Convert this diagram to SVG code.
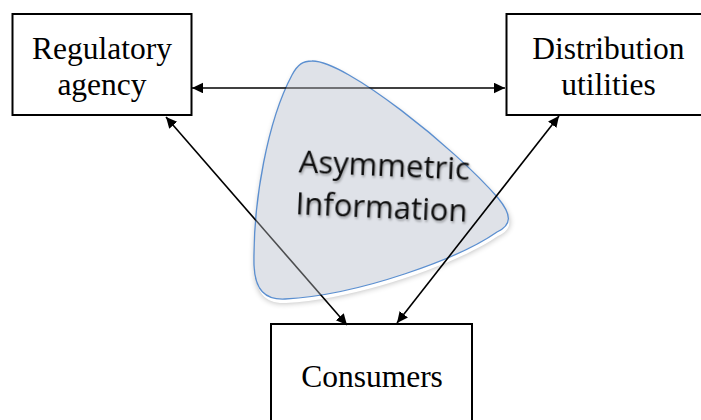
<svg xmlns="http://www.w3.org/2000/svg" width="701" height="420" viewBox="0 0 701 420">
<style>
.box{fill:#ffffff;stroke:#000000;stroke-width:2}
.lbl{font-family:"Liberation Serif","Times New Roman",serif;font-size:31.5px;fill:#000000;text-anchor:middle}
.conn{stroke:#000000;stroke-width:1.6;fill:none}
.blob{fill:#dfe2e8;stroke:#5b8fd0;stroke-width:1.3}
.info{font-family:"Open Sans","Liberation Sans",sans-serif;font-size:31px;fill:#111111;text-anchor:middle}
</style>
<defs>
<path id="blobPath" d="M312,61 C345,60 455,148 498,198 C512,215 512,225 497,232 C460,258 360,295 285,299 C265,300 255,290 254,265 C253,200 268,120 292,75 C298,64 303,61 312,61 Z"/>
<marker id="arr" markerUnits="userSpaceOnUse" markerWidth="12" markerHeight="11" refX="11" refY="5.25" orient="auto-start-reverse">
<path d="M0,0 L11,5.25 L0,10.5 Z" fill="#000000"/>
</marker>
<filter id="blur" x="-20%" y="-20%" width="140%" height="140%">
<feGaussianBlur stdDeviation="3"/>
</filter>
<filter id="tshadow" x="-10%" y="-30%" width="120%" height="160%">
<feDropShadow dx="1" dy="2" stdDeviation="1.3" flood-color="#000000" flood-opacity="0.3"/>
</filter>
<mask id="outside" maskUnits="userSpaceOnUse" x="0" y="0" width="701" height="420">
<rect x="0" y="0" width="701" height="420" fill="#ffffff"/>
<use href="#blobPath" fill="#000000"/>
</mask>
<mask id="under" maskUnits="userSpaceOnUse" x="0" y="0" width="701" height="420">
<rect x="0" y="0" width="701" height="420" fill="#ffffff"/>
<use href="#blobPath" fill="#a8a8a8"/>
</mask>
</defs>
<rect x="0" y="0" width="701" height="420" fill="#ffffff"/>

<g id="regulatory">
<rect class="box" x="12.5" y="14" width="179" height="101"/>
<text class="lbl" x="102" y="58.5">Regulatory</text>
<text class="lbl" x="102" y="95">agency</text>
</g>

<g id="distribution">
<rect class="box" x="506.5" y="14" width="210" height="101"/>
<text class="lbl" x="608.5" y="58.5">Distribution</text>
<text class="lbl" x="608.5" y="95">utilities</text>
</g>

<g id="consumers">
<rect class="box" x="271" y="324" width="201" height="110"/>
<text class="lbl" x="372" y="387">Consumers</text>
</g>

<g id="asymmetric-information">
<use href="#blobPath" fill="#000000" opacity="0.3" transform="translate(1,4)" filter="url(#blur)" mask="url(#outside)"/>
<use href="#blobPath" class="blob"/>
<g transform="rotate(2.5 383 197)" filter="url(#tshadow)">
<text class="info" x="383" y="176">Asymmetric</text>
<text class="info" x="382" y="218">Information</text>
</g>
</g>

<g id="connectors">
<g mask="url(#under)">
<line class="conn" x1="192" y1="88" x2="505" y2="88" marker-start="url(#arr)" marker-end="url(#arr)"/>
<line class="conn" x1="166" y1="117" x2="347" y2="325" marker-start="url(#arr)" marker-end="url(#arr)"/>
</g>
<line class="conn" x1="559" y1="116" x2="397" y2="323" marker-start="url(#arr)" marker-end="url(#arr)"/>
</g>
</svg>
